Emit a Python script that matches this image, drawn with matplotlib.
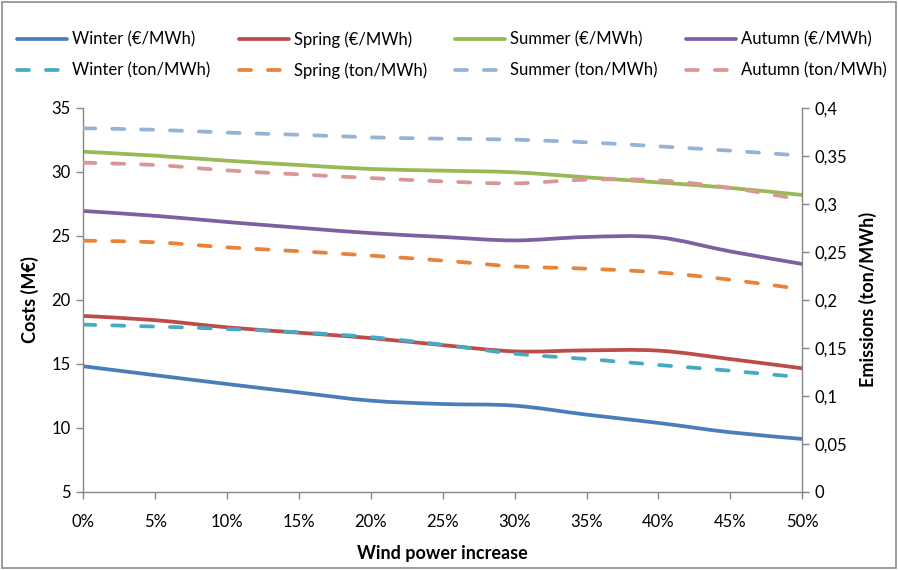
import numpy as np
import matplotlib.pyplot as plt
from matplotlib.path import Path
from matplotlib.patches import PathPatch, Rectangle
from matplotlib.lines import Line2D

plt.rcParams["font.family"] = ["Lato", "DejaVu Sans"]

# wind power increase (%)
increase = [0, 5, 10, 15, 20, 25, 30, 35, 40, 45, 50]

# costs per season (M€)
winter_cost = [14.8, 14.1, 13.41, 12.75, 12.11, 11.85, 11.72, 11.02, 10.37, 9.64, 9.12]
spring_cost = [18.73, 18.4, 17.84, 17.42, 17.0, 16.45, 15.96, 16.04, 16.02, 15.36, 14.64]
summer_cost = [31.56, 31.25, 30.86, 30.52, 30.21, 30.08, 29.95, 29.56, 29.16, 28.73, 28.18]
autumn_cost = [26.93, 26.55, 26.07, 25.62, 25.2, 24.9, 24.63, 24.9, 24.87, 23.77, 22.79]

# emissions per season (ton/MWh)
winter_em = [0.174, 0.172, 0.1695, 0.166, 0.161, 0.1531, 0.1437, 0.1382, 0.132, 0.126, 0.119]
spring_em = [0.2615, 0.2598, 0.2545, 0.2505, 0.2459, 0.2407, 0.2347, 0.2323, 0.2284, 0.2208, 0.2108]
summer_em = [0.3785, 0.377, 0.374, 0.3718, 0.3691, 0.3677, 0.3667, 0.3639, 0.3597, 0.3552, 0.35]
autumn_em = [0.3427, 0.3403, 0.3347, 0.3305, 0.3267, 0.3232, 0.3212, 0.325, 0.3243, 0.3164, 0.304]

cost_series = [
    ("Winter (€/MWh)", winter_cost, "#4A7EBB"),
    ("Spring (€/MWh)", spring_cost, "#BE4B48"),
    ("Summer (€/MWh)", summer_cost, "#98B954"),
    ("Autumn (€/MWh)", autumn_cost, "#7D60A0"),
]
em_series = [
    ("Winter (ton/MWh)", winter_em, "#46AAC5"),
    ("Spring (ton/MWh)", spring_em, "#E8833A"),
    ("Summer (ton/MWh)", summer_em, "#95B3D7"),
    ("Autumn (ton/MWh)", autumn_em, "#D99694"),
]


def smooth_path(x, y):
    # cubic bezier through the points, spreadsheet-style smoothing
    pts = np.column_stack([x, y]).astype(float)
    p = np.vstack([pts[0], pts, pts[-1]])
    verts = [pts[0]]
    codes = [Path.MOVETO]
    for i in range(1, len(p) - 2):
        c1 = p[i] + (p[i + 1] - p[i - 1]) / 6
        c2 = p[i + 1] - (p[i + 2] - p[i]) / 6
        verts += [c1, c2, p[i + 1]]
        codes += [Path.CURVE4] * 3
    return Path(verts, codes)


fig = plt.figure(figsize=(8.98, 5.70), dpi=100)
ax = fig.add_axes([0.0928, 0.1374, 0.8006, 0.6737])
ax2 = ax.twinx()

lw = 2.7
dash = (0, (3.2, 4.5))
handles = []
for (lc, yc, cc), (le, ye, ce) in zip(cost_series, em_series):
    ax.add_patch(PathPatch(smooth_path(increase, yc), fill=False, ec=cc, lw=lw,
                           capstyle="round", joinstyle="round"))
    ax2.add_patch(PathPatch(smooth_path(increase, ye), fill=False, ec=ce, lw=lw,
                            ls=dash, capstyle="round", joinstyle="round"))
    handles.append(Line2D([], [], color=cc, lw=lw, solid_capstyle="round", label=lc))
    handles.append(Line2D([], [], color=ce, lw=lw, ls=dash, dash_capstyle="round", label=le))

axis_col = "#868686"
ax.set_xlim(0, 50)
ax.set_ylim(5, 35)
ax2.set_ylim(0, 0.4)
ax.set_xticks(increase)
ax.set_xticklabels([f"{v}%" for v in increase])
ax.set_yticks(np.arange(5, 36, 5))
em_ticks = np.round(np.arange(0, 0.401, 0.05), 2)
ax2.set_yticks(em_ticks)
ax2.set_yticklabels([("%g" % v).replace(".", ",") for v in em_ticks])

for a in (ax, ax2):
    for s in a.spines.values():
        s.set_color(axis_col)
        s.set_linewidth(1.0)
    a.spines["top"].set_visible(False)
    a.tick_params(colors=axis_col, labelcolor="black", labelsize=12, length=5, width=1, pad=4)
ax.spines["right"].set_visible(False)
ax2.spines["left"].set_visible(False)
ax2.spines["bottom"].set_visible(False)
ax.tick_params(axis="x", pad=11)

ax.set_ylabel("Costs (M€)", fontsize=13, fontweight="bold", labelpad=9)
ax2.set_ylabel("Emissions (ton/MWh)", fontsize=13, fontweight="bold", labelpad=8)
ax.set_xlabel("Wind power increase", fontsize=13, fontweight="bold", labelpad=11)

fig.legend(handles=handles, ncol=4, loc="upper left", bbox_to_anchor=(0.012, 0.957),
           frameon=False, fontsize=12, handlelength=3.0, handletextpad=0.3,
           columnspacing=1.7, labelspacing=0.88, borderaxespad=0)

fig.patches.append(Rectangle((0.002, 0.003), 0.996, 0.994, transform=fig.transFigure,
                             fill=False, ec="#8C8C8C", lw=1.2))

fig.savefig("out.png", dpi=100)
